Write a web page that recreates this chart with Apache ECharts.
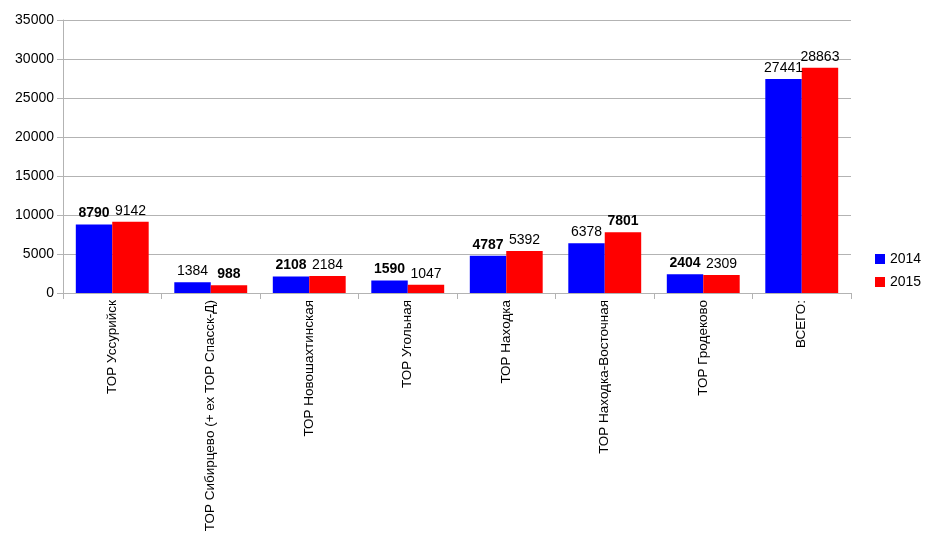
<!DOCTYPE html>
<html><head><meta charset="utf-8">
<script src="https://cdn.jsdelivr.net/npm/echarts@6/dist/echarts.min.js"></script>
<style>html,body{margin:0;padding:0;background:#fff}#c{width:930px;height:540px}</style>
</head><body><div id="c"></div>
<script>
const categories = ["ТОР Уссурийск","ТОР Сибирцево (+ ех ТОР Спасск-Д)","ТОР Новошахтинская","ТОР Угольная","ТОР Находка","ТОР Находка-Восточная","ТОР Гродеково","ВСЕГО:"];
const values2014 = [8790,1384,2108,1590,4787,6378,2404,27441];
const values2015 = [9142,988,2184,1047,5392,7801,2309,28863];
const bold2014 = [true,false,true,true,true,false,true,false];
const bold2015 = [false,true,false,false,false,true,false,false];
const yTicks = {min:0,max:35000,interval:5000};

const FONT = '"Liberation Sans Narrow","Liberation Sans",Arial,sans-serif';
function mk(vals, bolds){
  return vals.map((v,i)=>({value:v,label:{fontWeight:bolds[i]?'bold':'normal'}}));
}
const chart = echarts.init(document.getElementById('c'));
chart.setOption({
  animation:false,
  textStyle:{fontFamily:FONT},
  grid:{left:63,right:79,top:20,bottom:247,containLabel:false,outerBoundsMode:'none'},
  legend:{orient:'vertical',left:870,top:247,itemWidth:10,itemHeight:10,itemGap:9,
    icon:'rect',textStyle:{fontFamily:FONT,fontSize:14,color:'#000'},data:['2014','2015']},
  xAxis:{type:'category',data:categories,
    axisLine:{lineStyle:{color:'#b3b3b3'}},
    axisTick:{show:true,length:6,lineStyle:{color:'#b3b3b3'}},
    axisLabel:{rotate:90,interval:0,fontFamily:FONT,fontSize:13.5,color:'#000',margin:7}},
  yAxis:{type:'value',min:yTicks.min,max:yTicks.max,interval:yTicks.interval,
    axisLine:{show:true,lineStyle:{color:'#b3b3b3'}},
    axisTick:{show:true,length:6,lineStyle:{color:'#b3b3b3'}},
    splitLine:{lineStyle:{color:'#b3b3b3'}},
    axisLabel:{fontFamily:FONT,fontSize:14,color:'#000',margin:9,formatter:v=>String(v)}},
  series:[
    {name:'2014',type:'bar',data:mk(values2014,bold2014),itemStyle:{color:'#0000ff'},
     barGap:'0%',barCategoryGap:'26%',
     label:{show:true,position:'top',distance:4,fontFamily:FONT,fontSize:14,color:'#000'}},
    {name:'2015',type:'bar',data:mk(values2015,bold2015),itemStyle:{color:'#ff0000'},
     barGap:'0%',barCategoryGap:'26%',
     label:{show:true,position:'top',distance:4,fontFamily:FONT,fontSize:14,color:'#000'}}
  ]
});
</script></body></html>
